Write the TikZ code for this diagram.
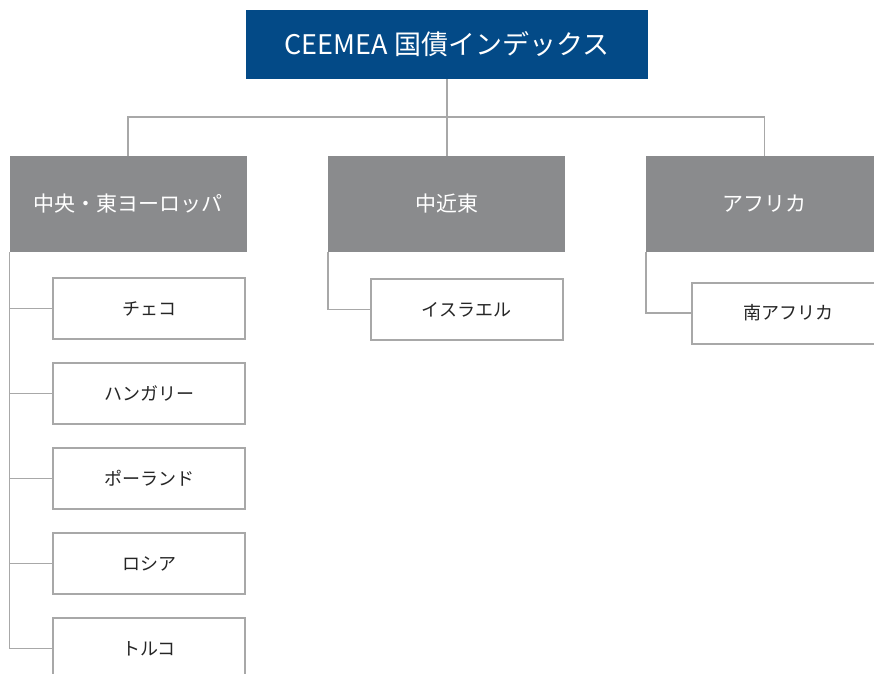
\documentclass[tikz,border=0pt]{standalone}
\usepackage{fontspec}
\setmainfont{Noto Sans CJK JP}
\usetikzlibrary{positioning}

\definecolor{indexblue}{HTML}{034A87}
\definecolor{regiongray}{HTML}{8A8B8D}
\definecolor{linkgray}{HTML}{A8A8A8}

\tikzset{
    indexbox/.style={fill=indexblue, text=white, inner sep=0pt,
        minimum width=402pt, minimum height=69pt,
        font=\fontsize{27}{31}\selectfont},
    regionbox/.style={fill=regiongray, text=white, inner sep=0pt,
        minimum width=237pt, minimum height=96pt,
        font=\fontsize{21}{25}\selectfont},
    countrybox/.style={draw=linkgray, line width=2pt, fill=white, text=black!85,
        inner sep=0pt, minimum width=192pt, minimum height=61pt,
        font=\fontsize{18}{21}\selectfont},
    link/.style={draw=linkgray, line width=1.5pt},
}

\begin{document}
\begin{tikzpicture}[x=1pt, y=-1pt]
    \useasboundingbox (0,0) rectangle (874,673);
    \clip (0,0) rectangle (874,673);

    \node[indexbox] (index) at (447,44.5) {CEEMEA 国債インデックス};

    \node[regionbox] (cee) at (128,204) {中央・東ヨーロッパ};
    \node[regionbox] (mideast) at (446.5,204) {中近東};
    \node[regionbox] (africa) at (764.5,204) {アフリカ};

    \node[countrybox] (czech) at (149,308.5) {チェコ};
    \node[countrybox, below=22pt of czech] (hungary) {ハンガリー};
    \node[countrybox, below=22pt of hungary] (poland) {ポーランド};
    \node[countrybox, below=22pt of poland] (russia) {ロシア};
    \node[countrybox, below=22pt of russia] (turkey) {トルコ};

    \node[countrybox] (israel) at (466.5,309.5) {イスラエル};
    \node[countrybox] (safrica) at (788,313) {南アフリカ};

    % top level
    \coordinate (bus) at (446.5,117);
    \draw[link] (index.south) -- (index.south |- mideast.north);
    \draw[link] (cee.north) |- (bus) -| (africa.north);

    % countries
    \foreach \c in {czech,hungary,poland,russia,turkey}
        \draw[link] (cee.south west) |- (\c.west);
    \draw[link] (mideast.south west) |- (israel.west);
    \draw[link] (africa.south west) |- (safrica.west);
\end{tikzpicture}
\end{document}
